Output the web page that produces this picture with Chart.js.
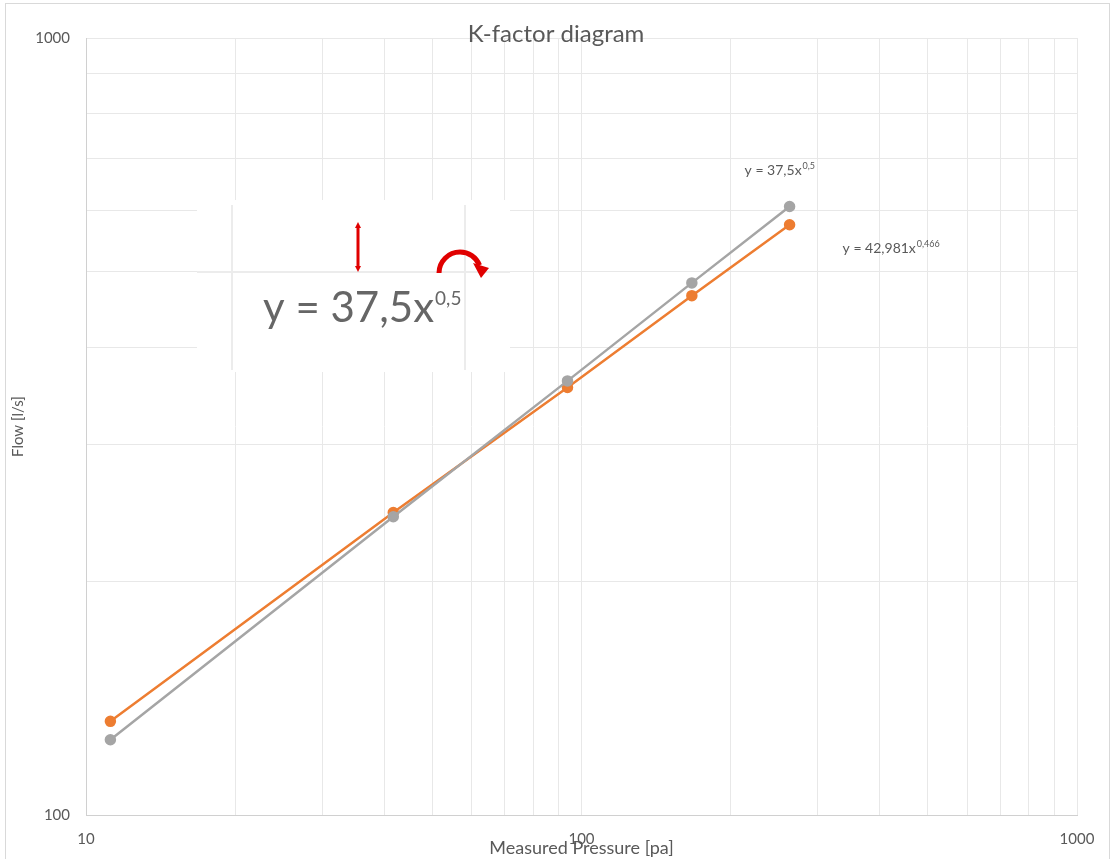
<!DOCTYPE html>
<html>
<head>
<meta charset="utf-8">
<script src="https://cdn.jsdelivr.net/npm/chart.js@4.4.1/dist/chart.umd.min.js"></script>
<style>
  html, body { margin: 0; padding: 0; background: #fff; }
  #wrap { width: 1112px; height: 859px; }
</style>
</head>
<body>
<div id="wrap"><canvas id="chart" width="1112" height="859"></canvas></div>
<script>
// pressure readings [pa] and flows [l/s]
const pressure = [11.2, 41.7, 93.7, 167, 263];
const flowFit = [125, 242, 362, 484, 607];      // y = 37,5x^0,5
const flowMeasured = [132, 245, 355, 466, 575]; // y = 42,981x^0,466
const xLabels = [10, 100, 1000];
const yLabels = [100, 1000];
const xGrid = [10, 20, 30, 40, 50, 60, 70, 80, 90, 100, 200, 300, 400, 500, 600, 700, 800, 900, 1000];
const yGrid = [100, 200, 300, 400, 500, 600, 700, 800, 900, 1000];

const GRAY = '#a5a5a5';
const ORANGE = '#ed7d31';
const TEXT = '#595959';
const FONT = 'Lato, "Open Sans", sans-serif';

function pts(ys) {
  return pressure.map((x, i) => ({ x: x, y: ys[i] }));
}

function supText(ctx, base, sup, x, y, size, supSize, rise) {
  ctx.font = size + 'px ' + FONT;
  ctx.fillText(base, x, y);
  const w = ctx.measureText(base).width;
  ctx.font = supSize + 'px ' + FONT;
  ctx.fillText(sup, x + w + 1, y - rise);
}

const decor = {
  id: 'decor',
  afterDraw(chart) {
    const ctx = chart.ctx;
    const xs = chart.scales.x, ys = chart.scales.y;
    const area = chart.chartArea;
    ctx.save();

    // outer frame
    ctx.strokeStyle = '#d9d9d9';
    ctx.lineWidth = 1;
    ctx.strokeRect(5.5, 3.5, 1104, 870);

    // title
    ctx.fillStyle = TEXT;
    ctx.font = '24px ' + FONT;
    ctx.textAlign = 'center';
    ctx.textBaseline = 'alphabetic';
    ctx.fillText('K-factor diagram', chart.width / 2, 42);

    // trendline equations next to the last points
    ctx.textAlign = 'left';
    const n = pressure.length - 1;
    const gx = xs.getPixelForValue(pressure[n]);
    supText(ctx, 'y = 37,5x', '0,5', gx - 45, ys.getPixelForValue(flowFit[n]) - 31, 14, 9, 6);
    supText(ctx, 'y = 42,981x', '0,466', gx + 53, ys.getPixelForValue(flowMeasured[n]) + 28, 14, 9, 6);

    // pasted picture of the equation
    const px = area.left + 111, py = 200;
    ctx.fillStyle = '#fff';
    ctx.fillRect(px, py, 313, 172);
    ctx.strokeStyle = '#ececec';
    ctx.lineWidth = 2;
    ctx.beginPath();
    ctx.moveTo(px + 35, py + 5); ctx.lineTo(px + 35, py + 170);
    ctx.moveTo(px + 268, py + 5); ctx.lineTo(px + 268, py + 170);
    ctx.moveTo(px, py + 72); ctx.lineTo(px + 313, py + 72);
    ctx.stroke();

    ctx.fillStyle = '#666666';
    supText(ctx, 'y = 37,5x', '0,5', px + 66, py + 122, 42, 19, 17);

    // red arrows
    ctx.strokeStyle = '#e00000';
    ctx.fillStyle = '#e00000';
    ctx.lineWidth = 3;
    const ax = px + 161;
    ctx.beginPath();
    ctx.moveTo(ax, py + 26); ctx.lineTo(ax, py + 68);
    ctx.stroke();
    ctx.beginPath();
    ctx.moveTo(ax - 3, py + 28); ctx.lineTo(ax, py + 22); ctx.lineTo(ax + 3, py + 28); ctx.fill();
    ctx.beginPath();
    ctx.moveTo(ax - 3, py + 66); ctx.lineTo(ax, py + 72); ctx.lineTo(ax + 3, py + 66); ctx.fill();

    ctx.lineWidth = 5;
    ctx.beginPath();
    ctx.arc(px + 263, py + 73, 21, Math.PI, Math.PI * 1.88);
    ctx.stroke();
    ctx.beginPath();
    ctx.moveTo(px + 276, py + 63);
    ctx.lineTo(px + 292, py + 68);
    ctx.lineTo(px + 284, py + 78);
    ctx.closePath();
    ctx.fill();

    ctx.restore();
  }
};

new Chart(document.getElementById('chart'), {
  type: 'line',
  data: {
    datasets: [
      {
        label: 'Fit',
        data: pts(flowFit),
        borderColor: GRAY,
        backgroundColor: GRAY,
        borderWidth: 2.5,
        pointRadius: 4.5,
        pointHoverRadius: 4.5
      },
      {
        label: 'Measured',
        data: pts(flowMeasured),
        borderColor: ORANGE,
        backgroundColor: ORANGE,
        borderWidth: 2.5,
        pointRadius: 4.5,
        pointHoverRadius: 4.5
      }
    ]
  },
  options: {
    responsive: false,
    animation: false,
    layout: { padding: { left: 0, right: 35, top: 38, bottom: 0 } },
    plugins: {
      legend: { display: false },
      tooltip: { enabled: false },
      title: { display: false }
    },
    scales: {
      x: {
        type: 'logarithmic',
        min: 10,
        max: 1000,
        afterBuildTicks: s => { s.ticks = xGrid.map(v => ({ value: v })); },
        grid: { color: '#e8e8e8', drawTicks: false },
        border: { color: '#d0d0d0' },
        ticks: {
          autoSkip: false,
          maxRotation: 0,
          padding: 15,
          color: TEXT,
          font: { family: FONT, size: 15 },
          callback: v => xLabels.includes(v) ? String(v) : ''
        },
        title: {
          display: true,
          text: 'Measured Pressure [pa]',
          color: TEXT,
          font: { family: FONT, size: 18 },
          padding: 0
        },
        afterFit: s => { s.height = 44; }
      },
      y: {
        type: 'logarithmic',
        min: 100,
        max: 1000,
        afterBuildTicks: s => { s.ticks = yGrid.map(v => ({ value: v })); },
        grid: { color: '#e8e8e8', drawTicks: false },
        border: { color: '#d0d0d0' },
        ticks: {
          autoSkip: false,
          padding: 16,
          color: TEXT,
          font: { family: FONT, size: 15 },
          callback: v => yLabels.includes(v) ? String(v) : ''
        },
        title: {
          display: true,
          text: 'Flow [l/s]',
          color: TEXT,
          font: { family: FONT, size: 15 },
          padding: { top: 9 }
        },
        afterFit: s => { s.width = 86; }
      }
    }
  },
  plugins: [decor]
});
</script>
</body>
</html>
